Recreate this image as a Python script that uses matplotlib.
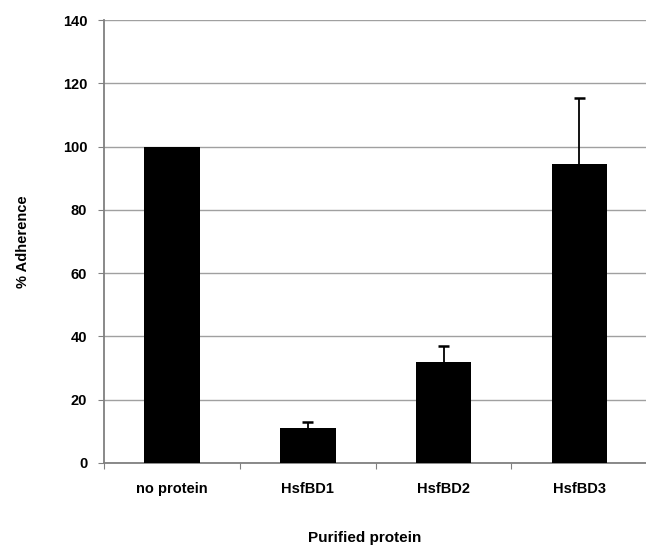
import numpy as np
import matplotlib.pyplot as plt

# data
categories = ["no protein", "HsfBD1", "HsfBD2", "HsfBD3"]
adherence = [100, 11, 32, 94.5]
err_up = [0, 1.8, 5, 21]

plt.rcParams['font.family'] = ['Liberation Sans', 'DejaVu Sans']

fig = plt.figure(figsize=(6.46, 5.52), dpi=100)
ax = fig.add_axes([104/646, 1 - 463/552, 1 - 104/646 + 0.002, (463 - 20)/552])

x = np.arange(len(categories))
y = np.array(adherence)
top = y + np.array(err_up)
ax.bar(x, y, width=0.41, color='black', zorder=3)

# upper error bars only (no lower cap)
has_err = np.array(err_up) > 0
ax.vlines(x[has_err], y[has_err], top[has_err], color='black', linewidth=1.3, zorder=4)
ax.hlines(top[has_err], x[has_err] - 0.04, x[has_err] + 0.04, color='black', linewidth=1.8, zorder=4)

ax.set_ylim(0, 140)
ax.set_xlim(-0.5, 3.5)
ax.set_yticks(np.arange(0, 141, 20))
ax.yaxis.grid(True, color='#a0a0a0', linewidth=1.0, zorder=0)

# ticks between categories
ax.set_xticks(np.arange(-0.5, 3.6, 1), minor=False)
ax.set_xticklabels([])
ax.set_xticks(x, minor=True)
ax.set_xticklabels(categories, minor=True, fontsize=10.5, fontweight='bold')
ax.tick_params(axis='x', which='minor', length=0, pad=14)
ax.tick_params(axis='x', which='major', length=4, color='#808080', direction='out')
ax.tick_params(axis='y', length=4, color='#808080', labelsize=10.5, pad=8)
for lab in ax.get_yticklabels():
    lab.set_fontweight('bold')

for s in ['left', 'bottom']:
    ax.spines[s].set_color('#808080')
    ax.spines[s].set_linewidth(1.3)
ax.spines['top'].set_visible(False)
ax.spines['right'].set_visible(False)

ax.set_ylabel("% Adherence", fontsize=10.5, fontweight='bold', labelpad=24)
fig.text(365/646, 1 - 538/552, "Purified protein", fontsize=11, fontweight='bold',
         ha='center', va='center')

fig.savefig("out.png", dpi=100)
